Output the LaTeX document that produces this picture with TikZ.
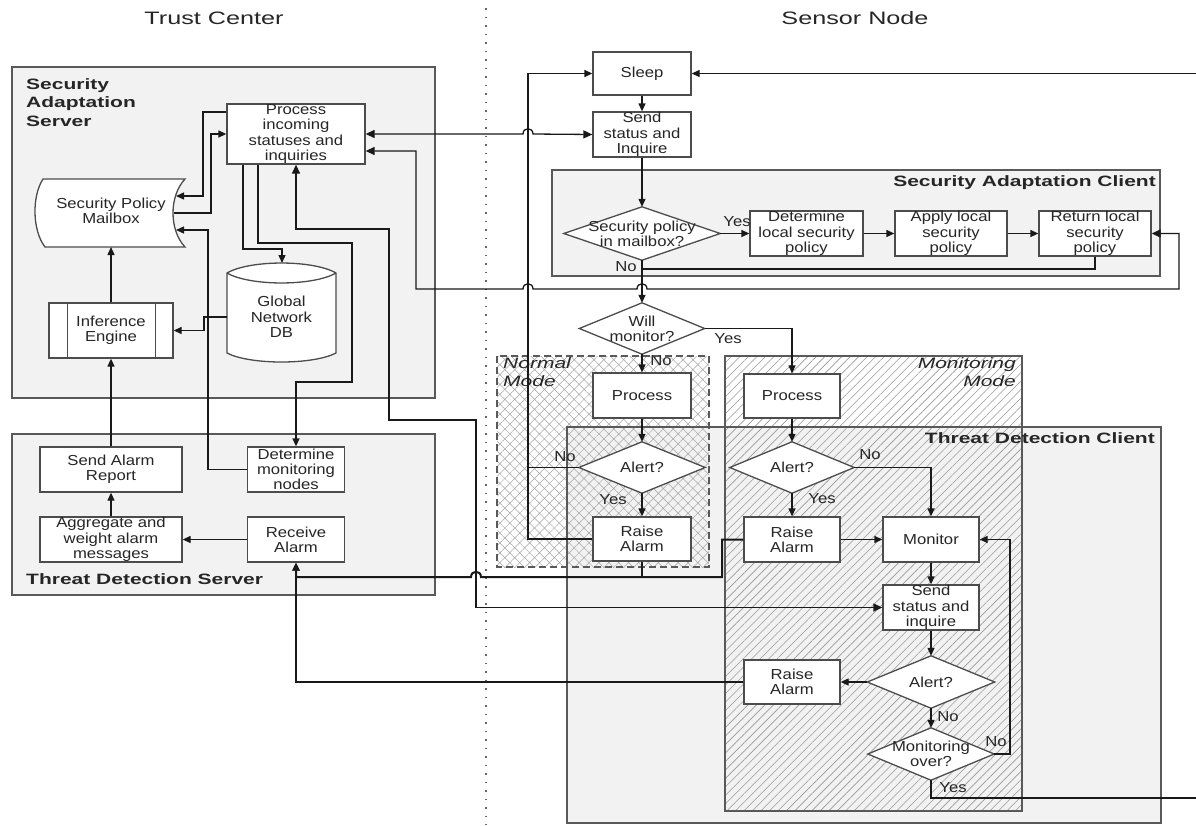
\documentclass[tikz,border=0pt]{standalone}
\usepackage{fontspec}
\setmainfont{Liberation Sans}[FakeStretch=1.15]
\newfontfamily\widefont{Liberation Sans}[FakeStretch=1.4]
\usetikzlibrary{arrows.meta,patterns.meta}
\pgfdeclarelayer{bg}\pgfdeclarelayer{dia}
\pgfsetlayers{bg,dia,main}
\begin{document}
\begin{tikzpicture}[x=1pt,y=-1pt,
  every node/.style={text=black!85},
  fs/.style={font=\fontsize{14.5}{15.3}\selectfont},
  box/.style={draw=black!70, line width=1.3pt, fill=white, inner sep=0pt, align=center, fs},
  dtext/.style={inner sep=0pt, align=center, fs},
  lbl/.style={inner sep=1pt, fs},
  tip/.style={-{Triangle[length=8pt,width=7pt]}},
  conn/.style={draw=black!90, line width=1.3pt, tip},
  plain/.style={draw=black!90, line width=1.3pt},
  both/.style={{Triangle[length=9pt,width=8pt]}-{Triangle[length=9pt,width=8pt]}},
  cont/.style={draw=black!65, line width=1.5pt, fill=black!5},
  hdr/.style={font=\widefont\bfseries\fontsize{15}{18.5}\selectfont, inner sep=0pt},
  mode/.style={font=\widefont\itshape\fontsize{15}{18}\selectfont, inner sep=0pt},
  ttl/.style={font=\widefont\fontsize{18}{20}\selectfont, inner sep=0pt},
]
\useasboundingbox (0,0) rectangle (1196,825);

% ---------- containers ----------
\begin{pgfonlayer}{bg}
  \fill[white] (0,0) rectangle (1196,825);
  \draw[cont] (12,67) rectangle (435,398);
  \draw[cont] (12,434) rectangle (435,595);
  \draw[cont] (552,170) rectangle (1160,276);
  \fill[black!5] (567,427) rectangle (1161,823);
  \fill[pattern={Hatch[angle=45,distance=7pt,line width=0.5pt]}, pattern color=black!35] (497,356) rectangle (709,567);
  \fill[pattern={Lines[angle=45,distance=6pt,line width=0.6pt]}, pattern color=black!40] (725,356) rectangle (1022,811);
  \draw[black!65, line width=1.5pt] (567,427) rectangle (1161,823);
  \draw[black!65, line width=1.5pt, dash pattern=on 7pt off 4pt] (497,356) rectangle (709,567);
  \draw[black!65, line width=1.5pt] (725,356) rectangle (1022,811);
  \draw[black!60, line width=1.3pt, dash pattern=on 1.5pt off 7pt] (486,8) -- (486,825);
\end{pgfonlayer}

% ---------- titles and container labels ----------
\node[ttl] (ttc) at (214,18) {Trust Center};
\node[ttl] (tsn) at (855,18) {Sensor Node};
\node[hdr, anchor=north west, align=left] (hsas) at (26,78) {Security\\Adaptation\\Server};
\node[hdr, anchor=west] (htds) at (26,579) {Threat Detection Server};
\node[hdr, anchor=east] (hsac) at (1156,183) {Security Adaptation Client};
\node[hdr, anchor=east] (htdc) at (1155,438) {Threat Detection Client};
\node[mode, anchor=north west, align=left] (hnm) at (503,357) {Normal\\Mode};
\node[mode, anchor=north east, align=right] (hmm) at (1016,357) {Monitoring\\Mode};

% ---------- trust center ----------
\node[box, minimum width=138pt, minimum height=60pt] (proc) at (296,134) {Process\\incoming\\statuses and\\inquiries};
\draw[black!70, line width=1.3pt, fill=white] (43,179) -- (185,179) .. controls (169,196) and (169,230) .. (185,247) -- (45,247) .. controls (32,230) and (32,196) .. (43,179) -- cycle;
\node[dtext] (mail) at (111,211) {Security Policy\\Mailbox};
\coordinate (mbA) at (176,196);
\coordinate (mbC) at (174,213);
\coordinate (mbD) at (176,230);
\coordinate (mbB) at (111,247);
\node[box, minimum width=124pt, minimum height=55pt] (infer) at (111,330.5) {Inference\\Engine};
\draw[black!70, line width=1.3pt] ([xshift=19pt]infer.north west) -- ([xshift=19pt]infer.south west);
\draw[black!70, line width=1.3pt] ([xshift=-18pt]infer.north east) -- ([xshift=-18pt]infer.south east);
\draw[black!70, line width=1.3pt, fill=white] (227,273) -- (227,353) .. controls (250,365) and (313,365) .. (336,353) -- (336,273) .. controls (313,259.7) and (250,259.7) .. (227,273) -- cycle;
\draw[black!70, line width=1.3pt] (227,273) .. controls (250,286.3) and (313,286.3) .. (336,273);
\node[dtext, minimum width=109pt] (db) at (281.5,317) {Global\\Network\\DB};
\coordinate (dbtop) at (282,263);
\node[box, minimum width=142pt, minimum height=45pt] (sendrep) at (111,469.5) {Send Alarm\\Report};
\node[box, minimum width=97pt, minimum height=45pt] (detmon) at (296,469.5) {Determine\\monitoring\\nodes};
\node[box, minimum width=142pt, minimum height=45pt] (aggr) at (111,539.5) {Aggregate and\\weight alarm\\messages};
\node[box, minimum width=97pt, minimum height=45pt] (recv) at (296,539.5) {Receive\\Alarm};

% ---------- sensor node ----------
\node[box, minimum width=98pt, minimum height=43pt] (sleep) at (642,73.5) {Sleep};
\node[box, minimum width=98pt, minimum height=45pt] (sendst) at (642,134.5) {Send\\status and\\Inquire};
\node[dtext, minimum width=156pt, minimum height=53pt] (secpol) at (642,233.5) {Security policy\\in mailbox?};
\node[box, minimum width=113pt, minimum height=45pt] (detloc) at (806.5,233.5) {Determine\\local security\\policy};
\node[box, minimum width=112pt, minimum height=45pt] (apply) at (951,233.5) {Apply local\\security\\policy};
\node[box, minimum width=112pt, minimum height=45pt] (ret) at (1095,233.5) {Return local\\security\\policy};
\node[dtext, minimum width=125pt, minimum height=51pt] (willmon) at (642,328.5) {Will\\monitor?};
\node[box, minimum width=98pt, minimum height=45pt] (procN) at (642,395.5) {Process};
\node[dtext, minimum width=126pt, minimum height=51pt] (alertN) at (642,467.5) {Alert?};
\node[box, minimum width=98pt, minimum height=44pt] (raiseN) at (642,539) {Raise\\Alarm};
\node[box, minimum width=96pt, minimum height=44pt] (procM) at (792,396) {Process};
\node[dtext, minimum width=124pt, minimum height=51pt] (alertM) at (792,467.5) {Alert?};
\node[box, minimum width=96pt, minimum height=45pt] (raiseM) at (792,539.5) {Raise\\Alarm};
\node[box, minimum width=96pt, minimum height=45pt] (monitor) at (931,539.5) {Monitor};
\node[box, minimum width=96pt, minimum height=45pt] (sendM) at (931,607.5) {Send\\status and\\inquire};
\node[dtext, minimum width=127pt, minimum height=52pt] (alert2) at (931,682) {Alert?};
\node[box, minimum width=96pt, minimum height=44pt] (raise2) at (792,682) {Raise\\Alarm};
\node[dtext, minimum width=126pt, minimum height=52pt] (monover) at (931,754) {Monitoring\\over?};
\coordinate (edgeT) at (1196,73.5);
\coordinate (edgeB) at (1196,798);

\begin{pgfonlayer}{dia}
  \foreach \n in {secpol,willmon,alertN,alertM,alert2,monover}
    \draw[draw=black!70, line width=1.3pt, fill=white] (\n.north) -- (\n.east) -- (\n.south) -- (\n.west) -- cycle;
\end{pgfonlayer}

% ---------- trust center connectors ----------
\draw[conn] ([yshift=22pt]proc.west) -- (203,112) -- (203,196) -- (mbA);
\draw[conn] (mbC) -- (211,213) -- (211,134) -- (proc.west);
\draw[conn] (detmon.west) -- (208,469.5) -- (208,230) -- (mbD);
\draw[conn] (db.west) -- (204,317) -- (204,330.5) -- (infer.east);
\draw[conn] (infer.north) -- (mbB);
\draw[conn] (sendrep.north) -- (infer.south);
\draw[conn] (aggr.north) -- (sendrep.south);
\draw[conn] (recv.west) -- (aggr.east);
\draw[conn] ([xshift=-53pt]proc.south) -- (243,249) -- (282,249) -- (dbtop);
\draw[conn] ([xshift=-38pt]proc.south) -- (258,243) -- (352,243) -- (352,382) -- (296,382) -- (detmon.north);

% ---------- cross connectors ----------
\draw[plain, both] (proc.east) -- (523,134) .. controls (523,127) and (533,127) .. (533,134) -- (sendst.west);
\draw[plain, both] ([yshift=-17pt]proc.east) -- (416,151) -- (416,289) -- (523,289) .. controls (523,282) and (533,282) .. (533,289) -- (637,289) .. controls (637,282) and (647,282) .. (647,289) -- (1179,289) -- (1179,233.5) -- (ret.east);
\draw[plain, both] (proc.south) -- (296,229) -- (389,229) -- (389,420) -- (476,420) -- (476,607.5) -- (sendM.west);
\draw[conn, line width=2pt] (raiseM.west) -- (722,539.5) -- (722,577) -- (481,577) .. controls (481,570) and (471,570) .. (471,577) -- (296,577) -- (recv.south);
\draw[plain, line width=2pt] (raiseN.south) -- (642,577);
\draw[conn, line width=2pt] (raise2.west) -- (296,682) -- (recv.south);

% ---------- sensor node connectors ----------
\draw[conn] (edgeT) -- (sleep.east);
\draw[conn] (sleep.south) -- (sendst.north);
\draw[conn] (sendst.south) -- (secpol.north);
\draw[conn] (secpol.east) -- (detloc.west);
\draw[conn] (detloc.east) -- (apply.west);
\draw[conn] (apply.east) -- (ret.west);
\draw[plain] (ret.south) -- (1095,269) -- (642,269);
\draw[conn] (secpol.south) -- (willmon.north);
\draw[conn] (willmon.south) -- (procN.north);
\draw[conn] (willmon.east) -- (792,328.5) -- (procM.north);
\draw[conn] (procN.south) -- (alertN.north);
\draw[conn] (alertN.south) -- (raiseN.north);
\draw[conn] (alertN.west) -- (528,467.5) -- (528,73.5) -- (sleep.west);
\draw[plain] (raiseN.west) -- (528,539) -- (528,467.5);
\draw[conn] (procM.south) -- (alertM.north);
\draw[conn] (alertM.south) -- (raiseM.north);
\draw[conn] (alertM.east) -- (931,467.5) -- (monitor.north);
\draw[conn] (raiseM.east) -- (monitor.west);
\draw[conn] (monitor.south) -- (sendM.north);
\draw[conn] (sendM.south) -- (alert2.north);
\draw[conn] (alert2.west) -- (raise2.east);
\draw[conn] (alert2.south) -- (monover.north);
\draw[conn] (monover.east) -- (1010,754) -- (1010,539.5) -- (monitor.east);
\draw[plain] (monover.south) -- (931,798) -- (edgeB);

% ---------- branch labels ----------
\node[lbl] (l1) at (737,222) {Yes};
\node[lbl] (l2) at (626,267) {No};
\node[lbl] (l3) at (661,361) {No};
\node[lbl, fill=white] (l4) at (728,339) {Yes};
\node[lbl] (l5) at (565,457) {No};
\node[lbl] (l6) at (613,500) {Yes};
\node[lbl] (l7) at (870,455) {No};
\node[lbl] (l8) at (822,499) {Yes};
\node[lbl] (l9) at (948,717) {No};
\node[lbl] (l10) at (996,742) {No};
\node[lbl] (l11) at (953,788) {Yes};
\end{tikzpicture}
\end{document}
